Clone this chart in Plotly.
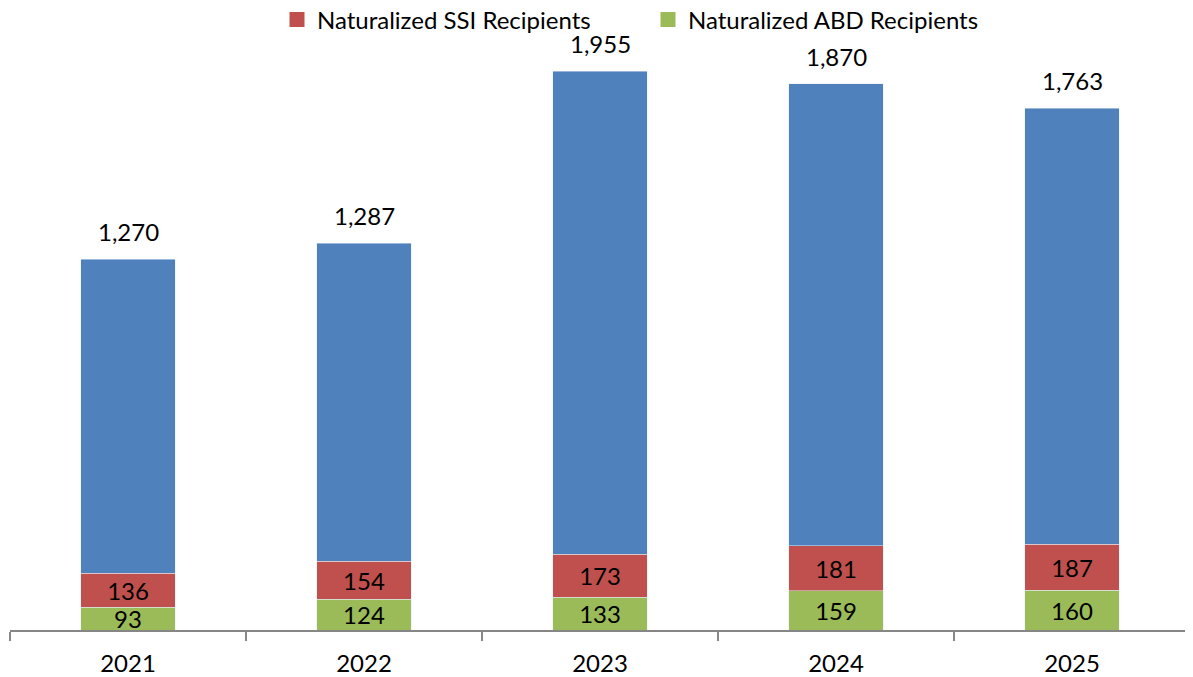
import plotly.graph_objects as go

years = ["2021", "2022", "2023", "2024", "2025"]
abd = [93, 124, 133, 159, 160]
ssi = [136, 154, 173, 181, 187]
total = [1270, 1287, 1955, 1870, 1763]

FONT = "Lato"
BLUE, RED, GREEN = "#4F81BD", "#C0504D", "#9BBB59"
fig = go.Figure()
fig.add_trace(go.Bar(x=years, y=abd, name="Naturalized ABD Recipients",
                     marker_color=GREEN, text=[str(v) for v in abd], showlegend=False,
                     textposition="inside", insidetextanchor="middle",
                     constraintext="none", textangle=0,
                     textfont=dict(size=24, color="black", family=FONT)))
fig.add_trace(go.Bar(x=years, y=ssi, name="Naturalized SSI Recipients",
                     marker_color=RED, text=[str(v) for v in ssi], showlegend=False,
                     textposition="inside", insidetextanchor="middle",
                     constraintext="none", textangle=0,
                     textfont=dict(size=24, color="black", family=FONT)))
fig.add_trace(go.Bar(x=years, y=total, name="Total", showlegend=False,
                     marker_color=BLUE))
# legend entries with square swatches
for name, col in [("Naturalized SSI Recipients", RED), ("Naturalized ABD Recipients", GREEN)]:
    fig.add_trace(go.Scatter(x=[None], y=[None], mode="markers", name=name,
                             marker=dict(symbol="square", size=15, color=col)))

for i, (a, s, t) in enumerate(zip(abd, ssi, total)):
    fig.add_annotation(x=i, y=a + s + t, text=f"{t:,}", showarrow=False,
                       yanchor="bottom", yshift=11,
                       font=dict(size=24, color="black", family=FONT))

fig.update_layout(
    barmode="stack", bargap=0.6,
    width=1193, height=677,
    margin=dict(l=2, r=11, t=32, b=55, autoexpand=False),
    plot_bgcolor="white", paper_bgcolor="white",
    font=dict(family=FONT, size=22, color="black"),
    legend=dict(orientation="h", x=(297 - 8 - 2 - 20) / 1180, xanchor="left", yref="container",
                y=1 - 12 / 677, yanchor="middle", traceorder="normal",
                entrywidth=326, entrywidthmode="pixels",
                font=dict(size=24, family=FONT), itemwidth=30),
    xaxis=dict(type="category", showline=True, linecolor="#868686", linewidth=1.5,
               ticks="outside", tickson="boundaries", ticklen=9, tickcolor="#868686",
               tickwidth=1.5, tickfont=dict(size=24, family=FONT), showgrid=False,
               automargin=False, ticklabelstandoff=11, range=[-0.5, 4.5]),
    yaxis=dict(range=[0, 2387], visible=False, showgrid=False),
)
fig.write_html("out.html")
